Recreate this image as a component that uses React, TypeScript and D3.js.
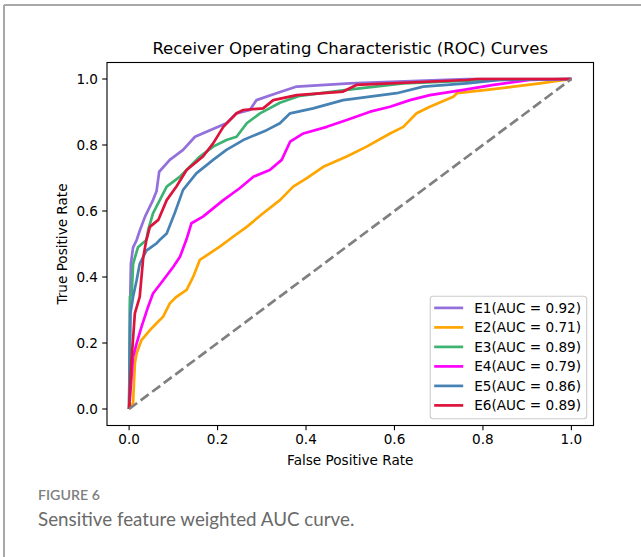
import React from "react";
import * as d3 from "d3";

const seriesNames = ["E1", "E2", "E3", "E4", "E5", "E6"];
const aucValues = [0.92, 0.71, 0.89, 0.79, 0.86, 0.89];
const seriesColors = ["#9370DB", "#FFA500", "#3CB371", "#FF00FF", "#4682B4", "#DC143C"];
const tickValues = [0, 0.2, 0.4, 0.6, 0.8, 1.0];

const e1Points: [number, number][] = [
  [0, 0], [0.002, 0.3], [0.004, 0.44], [0.009, 0.49], [0.017, 0.512], [0.024, 0.54],
  [0.036, 0.583], [0.054, 0.633], [0.062, 0.66], [0.068, 0.719], [0.092, 0.755],
  [0.122, 0.785], [0.149, 0.825], [0.183, 0.845], [0.22, 0.866], [0.243, 0.896],
  [0.273, 0.906], [0.288, 0.936], [0.333, 0.957], [0.379, 0.977], [0.499, 0.987],
  [0.763, 1.0], [1, 1],
];
const e2Points: [number, number][] = [
  [0, 0], [0.009, 0.018], [0.013, 0.138], [0.017, 0.169], [0.028, 0.209], [0.047, 0.239],
  [0.062, 0.26], [0.077, 0.28], [0.092, 0.32], [0.107, 0.34], [0.13, 0.361],
  [0.145, 0.401], [0.16, 0.452], [0.183, 0.472], [0.205, 0.492], [0.235, 0.522],
  [0.266, 0.552], [0.303, 0.593], [0.341, 0.633], [0.371, 0.674], [0.401, 0.699],
  [0.439, 0.734], [0.492, 0.765], [0.537, 0.795], [0.59, 0.835], [0.62, 0.855],
  [0.65, 0.896], [0.68, 0.916], [0.733, 0.946], [0.741, 0.957], [0.809, 0.967],
  [0.869, 0.977], [0.929, 0.987], [1, 1],
];
const e3Points: [number, number][] = [
  [0, 0], [0.002, 0.34], [0.006, 0.35], [0.009, 0.44], [0.02, 0.49], [0.039, 0.512],
  [0.043, 0.542], [0.054, 0.593], [0.085, 0.674], [0.115, 0.704], [0.137, 0.734],
  [0.16, 0.765], [0.19, 0.795], [0.22, 0.815], [0.243, 0.825], [0.266, 0.866],
  [0.296, 0.896], [0.341, 0.928], [0.386, 0.949], [0.492, 0.967], [0.62, 0.987],
  [0.809, 0.997], [1, 1],
];
const e4Points: [number, number][] = [
  [0, 0], [0.009, 0.158], [0.017, 0.199], [0.028, 0.249], [0.043, 0.31], [0.054, 0.35],
  [0.077, 0.39], [0.1, 0.431], [0.115, 0.461], [0.13, 0.515], [0.141, 0.563],
  [0.167, 0.583], [0.213, 0.633], [0.25, 0.669], [0.281, 0.704], [0.318, 0.724],
  [0.345, 0.755], [0.364, 0.81], [0.394, 0.835], [0.447, 0.855], [0.492, 0.876],
  [0.545, 0.901], [0.59, 0.916], [0.635, 0.936], [0.68, 0.951], [0.756, 0.967],
  [0.824, 0.982], [0.906, 0.997], [1, 1],
];
const e5Points: [number, number][] = [
  [0, 0], [0.003, 0.29], [0.009, 0.34], [0.017, 0.39], [0.024, 0.44], [0.039, 0.48],
  [0.062, 0.502], [0.069, 0.512], [0.085, 0.532], [0.103, 0.593], [0.122, 0.664],
  [0.152, 0.714], [0.19, 0.755], [0.22, 0.785], [0.258, 0.815], [0.311, 0.845],
  [0.341, 0.866], [0.364, 0.896], [0.416, 0.911], [0.484, 0.936], [0.605, 0.957],
  [0.665, 0.977], [0.763, 0.987], [0.839, 0.997], [1, 1],
];
const e6Points: [number, number][] = [
  [0, 0], [0.005, 0.139], [0.013, 0.29], [0.024, 0.34], [0.032, 0.46], [0.039, 0.512],
  [0.047, 0.552], [0.066, 0.573], [0.085, 0.633], [0.107, 0.674], [0.13, 0.724],
  [0.167, 0.765], [0.19, 0.805], [0.213, 0.855], [0.243, 0.896], [0.258, 0.906],
  [0.303, 0.911], [0.326, 0.936], [0.379, 0.951], [0.484, 0.962], [0.514, 0.982],
  [0.763, 0.997], [0.786, 1.0], [1, 1],
];
const seriesPoints = [e1Points, e2Points, e3Points, e4Points, e5Points, e6Points];

const W = 641;
const H = 557;
const left = 107;
const right = 593.5;
const top = 62.5;
const bottom = 425.5;
const FONT = "DejaVu Sans, sans-serif";

export default function App() {
  const x = d3.scaleLinear().domain([-0.05, 1.05]).range([left, right]);
  const y = d3.scaleLinear().domain([-0.05, 1.05]).range([bottom, top]);
  const line = d3
    .line<[number, number]>()
    .x((d) => x(d[0]))
    .y((d) => y(d[1]))
    .curve(d3.curveLinear);

  const legW = 156.5;
  const legRight = right - 6.8;
  const legBottom = bottom - 6.8;
  const rowH = 19.5;
  const legH = 122.5;
  const legLeft = legRight - legW;
  const legTop = legBottom - legH;

  return (
    <svg
      width={W}
      height={H}
      style={{ position: "absolute", left: 0, top: 0, background: "#fff" }}
    >
      <rect x={0} y={0} width={W} height={H} fill="#fff" />
      <line x1={4} y1={5} x2={W} y2={5} stroke="#a8a8a8" strokeWidth={2} />
      <line x1={4} y1={5} x2={4} y2={H} stroke="#a8a8a8" strokeWidth={2} />

      <text
        x={(left + right) / 2}
        y={54}
        textAnchor="middle"
        fontFamily={FONT}
        fontSize={16.5}
        fill="#000"
      >
        Receiver Operating Characteristic (ROC) Curves
      </text>

      <defs>
        <clipPath id="plotClip">
          <rect x={left} y={top} width={right - left} height={bottom - top} />
        </clipPath>
      </defs>

      <g clipPath="url(#plotClip)">
        {seriesPoints.map((pts, i) => (
          <path
            key={seriesNames[i]}
            d={line(pts) || ""}
            fill="none"
            stroke={seriesColors[i]}
            strokeWidth={2.7}
            strokeLinejoin="round"
          />
        ))}
        <path
          d={line([[0, 0], [1, 1]]) || ""}
          fill="none"
          stroke="#808080"
          strokeWidth={2.7}
          strokeDasharray="10,4.4"
        />
      </g>

      <rect
        x={left}
        y={top}
        width={right - left}
        height={bottom - top}
        fill="none"
        stroke="#000"
        strokeWidth={1.1}
      />

      {tickValues.map((t) => (
        <g key={"x" + t}>
          <line x1={x(t)} x2={x(t)} y1={bottom} y2={bottom + 4.8} stroke="#000" strokeWidth={1.1} />
          <text
            x={x(t)}
            y={bottom + 18}
            textAnchor="middle"
            fontFamily={FONT}
            fontSize={13.6}
            fill="#000"
          >
            {t.toFixed(1)}
          </text>
        </g>
      ))}
      {tickValues.map((t) => (
        <g key={"y" + t}>
          <line x1={left - 4.8} x2={left} y1={y(t)} y2={y(t)} stroke="#000" strokeWidth={1.1} />
          <text
            x={left - 9}
            y={y(t) + 4.9}
            textAnchor="end"
            fontFamily={FONT}
            fontSize={13.6}
            fill="#000"
          >
            {t.toFixed(1)}
          </text>
        </g>
      ))}

      <text
        x={(left + right) / 2}
        y={465}
        textAnchor="middle"
        fontFamily={FONT}
        fontSize={13.6}
        fill="#000"
      >
        False Positive Rate
      </text>
      <text
        transform={`translate(67,${(top + bottom) / 2}) rotate(-90)`}
        textAnchor="middle"
        fontFamily={FONT}
        fontSize={13.6}
        fill="#000"
      >
        True Positive Rate
      </text>

      <rect
        x={legLeft}
        y={legTop}
        width={legW}
        height={legH}
        rx={3}
        ry={3}
        fill="#fff"
        fillOpacity={0.8}
        stroke="#cccccc"
        strokeWidth={1.1}
      />
      {seriesNames.map((name, i) => {
        const cy = legTop + 11.7 + i * rowH;
        return (
          <g key={"leg" + name}>
            <line
              x1={legLeft + 4}
              x2={legLeft + 33}
              y1={cy}
              y2={cy}
              stroke={seriesColors[i]}
              strokeWidth={2.7}
            />
            <text
              x={legLeft + 44}
              y={cy + 4.9}
              fontFamily={FONT}
              fontSize={13.6}
              fill="#000"
            >
              {`${name}(AUC = ${aucValues[i].toFixed(2)})`}
            </text>
          </g>
        );
      })}

      <text x={38} y={500} fontFamily="Lato, sans-serif" fontSize={14.2} fontWeight={600} fill="#808080">
        FIGURE 6
      </text>
      <text x={38} y={526} fontFamily="Lato, sans-serif" fontSize={18.8} fill="#6a6a6a">
        Sensitive feature weighted AUC curve.
      </text>
    </svg>
  );
}
